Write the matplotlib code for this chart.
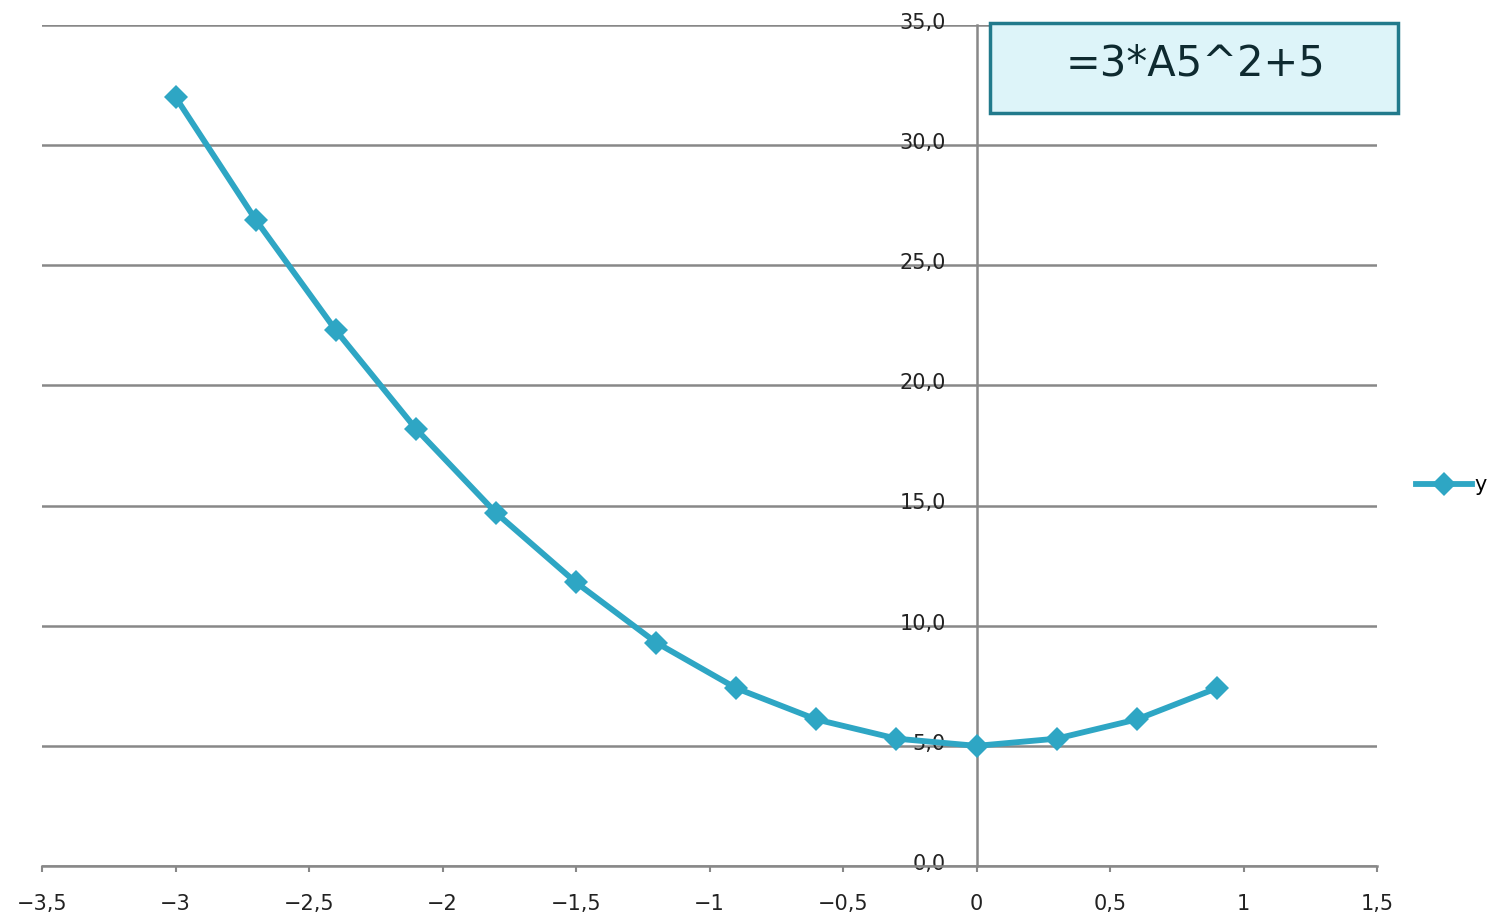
import matplotlib
matplotlib.use('Agg')
import matplotlib.pyplot as plt
from matplotlib.patches import Rectangle
from matplotlib.transforms import ScaledTranslation

# values
x_vals = [-3.0, -2.7, -2.4, -2.1, -1.8, -1.5, -1.2, -0.9, -0.6, -0.3, 0.0, 0.3, 0.6, 0.9]
y_vals = [32.0, 26.9, 22.3, 18.2, 14.7, 11.8, 9.3, 7.4, 6.1, 5.3, 5.0, 5.3, 6.1, 7.4]

x_ticks = [-3.5, -3, -2.5, -2, -1.5, -1, -0.5, 0, 0.5, 1, 1.5]
x_labels = ['−3,5', '−3', '−2,5', '−2', '−1,5', '−1', '−0,5', '0', '0,5', '1', '1,5']
y_ticks = [0, 5, 10, 15, 20, 25, 30, 35]
y_labels = ['0,0', '5,0', '10,0', '15,0', '20,0', '25,0', '30,0', '35,0']
formula = '=3*A5^2+5'
series_name = 'y'

line_col = '#2EA6C4'
grid_col = '#888888'

fig = plt.figure(figsize=(14.96, 9.23), dpi=100)
ax = fig.add_axes([42 / 1496, 57 / 923, (1377 - 42) / 1496, (866 - 25) / 923])

ax.plot(x_vals, y_vals, color=line_col, lw=4.2, marker='D', markersize=12,
        markeredgewidth=0, label=series_name, zorder=5, solid_joinstyle='round')

ax.set_xlim(-3.5, 1.5)
ax.set_ylim(0, 35)

ax.spines['top'].set_visible(False)
ax.spines['right'].set_visible(False)
ax.spines['left'].set_position(('data', 0))
for s in ['left', 'bottom']:
    ax.spines[s].set_color(grid_col)
    ax.spines[s].set_linewidth(1.8)

ax.set_xticks(x_ticks)
ax.set_xticklabels(x_labels)
ax.set_yticks(y_ticks)
ax.set_yticklabels(y_labels)
ax.tick_params(axis='x', length=4, width=1.5, color=grid_col, pad=16,
               labelsize=15, labelcolor='#222222')
ax.tick_params(axis='y', length=0, pad=22, labelsize=15, labelcolor='#222222')
for lab in ax.get_yticklabels():
    lab.set_transform(lab.get_transform() + ScaledTranslation(0, 3 / 72, fig.dpi_scale_trans))

ax.yaxis.grid(True, color=grid_col, lw=1.8)
ax.set_axisbelow(True)

# formula box
fig.patches.append(Rectangle((990 / 1496, 1 - 113 / 923), 408 / 1496, 90 / 923,
                             transform=fig.transFigure, facecolor='#DDF4F9',
                             edgecolor='#217A8C', lw=2.5, zorder=10))
fig.text(1196 / 1496, 1 - 64 / 923, formula, fontsize=30, color='#0E2A30',
         ha='center', va='center', zorder=11)

leg = ax.legend(loc='center left', bbox_to_anchor=(1416 / 1496, 1 - 485 / 923),
                bbox_transform=fig.transFigure, frameon=False, fontsize=15,
                handlelength=2.7, handletextpad=0.1, borderpad=0, borderaxespad=0)

fig.savefig('out.png', dpi=100)
